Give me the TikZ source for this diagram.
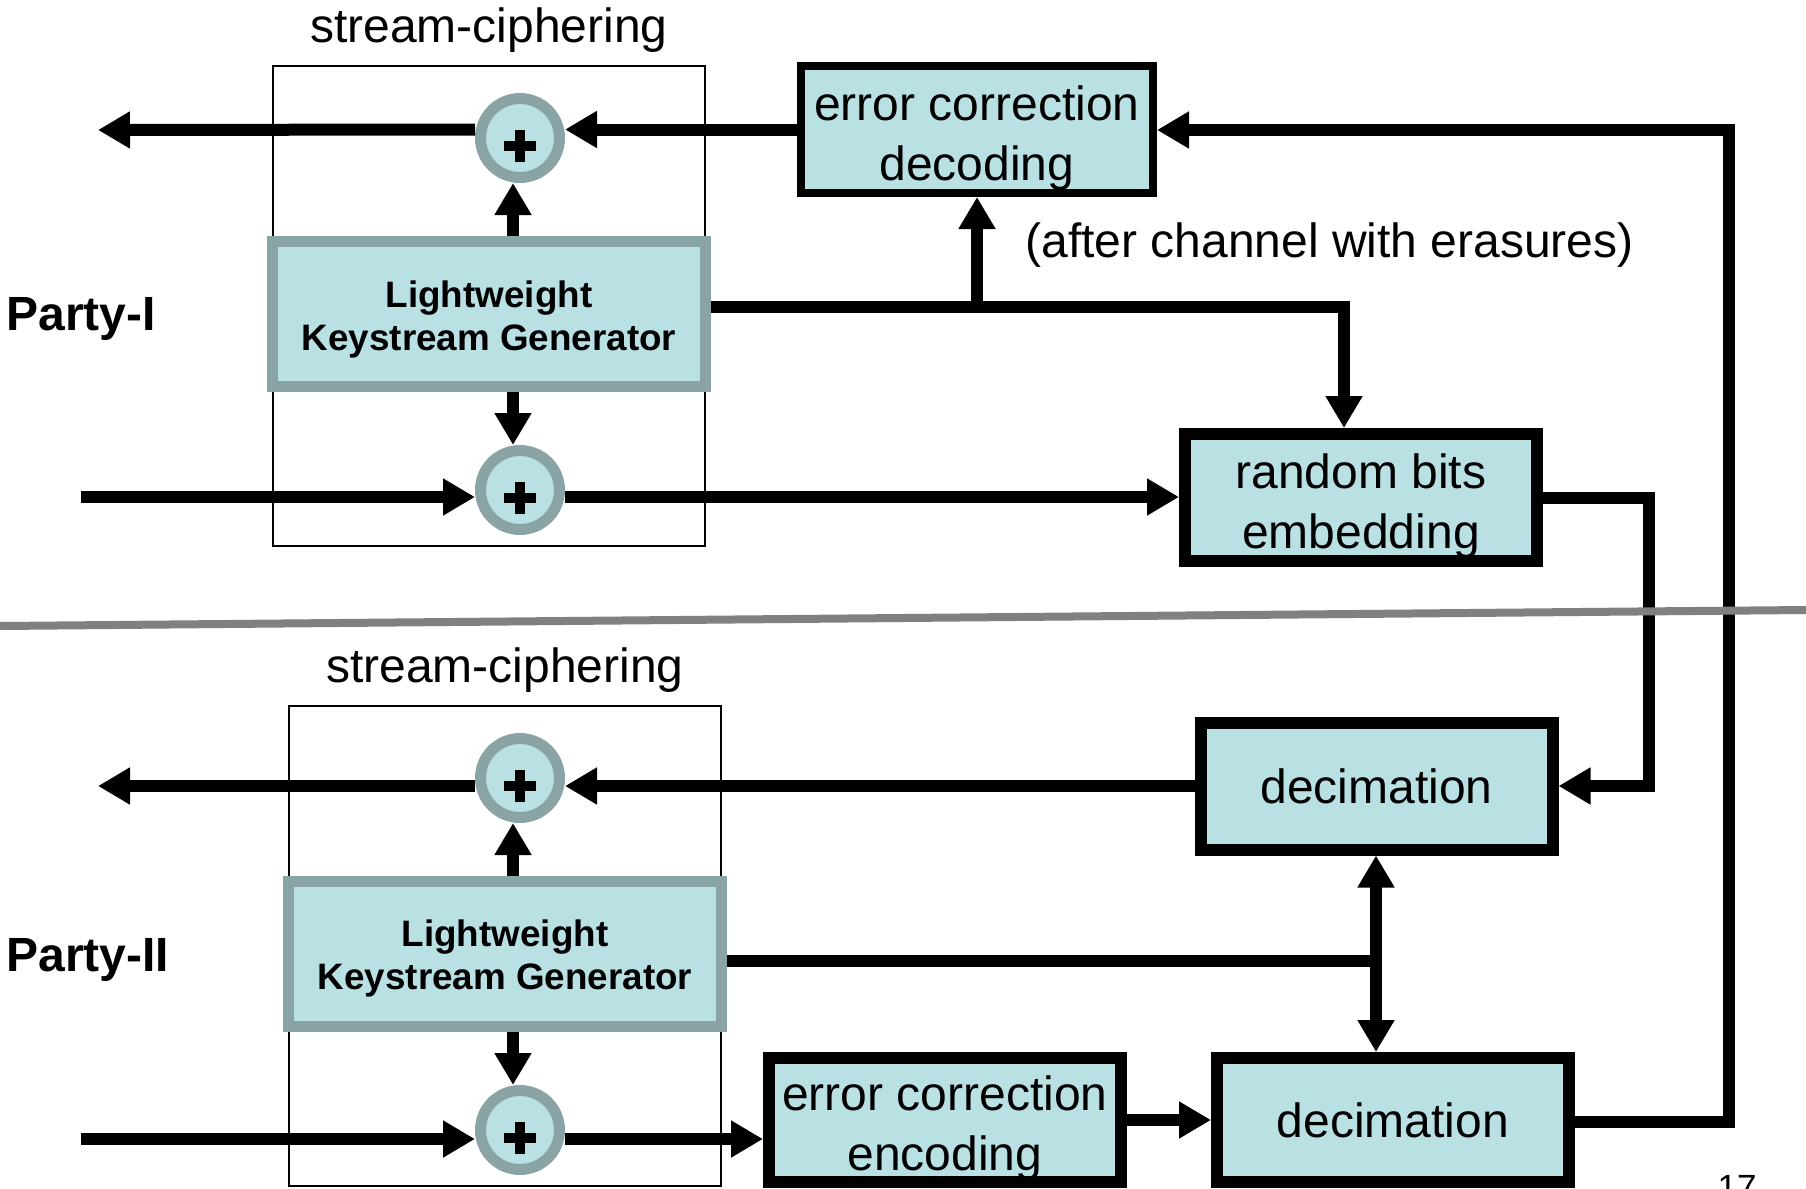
\documentclass[tikz,border=0pt]{standalone}
\usepackage{fontspec}
\setmainfont{Liberation Sans}
\usetikzlibrary{arrows.meta}

\definecolor{boxfill}{RGB}{185,224,227}
\definecolor{ringgray}{RGB}{138,164,166}
\definecolor{sepgray}{RGB}{128,128,128}

% invisible struts that lower two-line block texts a little
\newcommand{\bigpad}{\rule{0pt}{25.5pt}}
\newcommand{\kgpad}{\rule{0pt}{18.4pt}}

\begin{document}
\begin{tikzpicture}[x=0.5pt,y=-0.5pt,
  conn/.style={line width=6pt},
  arr/.style={conn,-{Triangle[length=16pt,width=17.5pt]}},
  darr/.style={conn,{Triangle[length=16pt,width=17.5pt]}-{Triangle[length=16pt,width=17.5pt]}},
  bigtext/.style={font=\fontsize{24}{30}\selectfont},
  procbox/.style={draw=black,line width=6pt,fill=boxfill,minimum width=176pt,
    minimum height=63.5pt,inner sep=0pt,align=center,bigtext},
  keygen/.style={draw=ringgray,line width=5.5pt,fill=boxfill,minimum width=216.5pt,
    minimum height=72.5pt,inner sep=0pt,align=center,
    font=\bfseries\fontsize{18.4}{21.5}\selectfont},
  xorop/.style={circle,draw=ringgray,line width=5.5pt,fill=boxfill,minimum size=39.5pt,
    inner sep=0pt,
    path picture={\draw[black,line width=5pt]
      ([yshift=-3.75pt]path picture bounding box.center) +(-8pt,0pt) -- +(8pt,0pt)
      ([yshift=-3.75pt]path picture bounding box.center) +(0pt,-8pt) -- +(0pt,8pt);}},
  cipherframe/.style={draw=black,line width=1pt,minimum width=216pt,minimum height=240pt,inner sep=0pt},
  plainlabel/.style={inner sep=0pt,bigtext},
  partylabel/.style={anchor=base west,inner sep=0pt,font=\bfseries\fontsize{24}{30}\selectfont},
  sep/.style={draw=sepgray,line width=4pt}
]
\useasboundingbox (0,0) rectangle (1806,1189);
\clip (0,0) rectangle (1806,1189);

% stream-ciphering frames and their titles
\node[cipherframe] (sc1) at (489,306) {};
\node[cipherframe] (sc2) at (505,946) {};
\node[anchor=base,plainlabel] (lab1) at (489,42) {stream-ciphering};
\node[anchor=base,plainlabel] (lab2) at (505,682) {stream-ciphering};

% keystream generators
\node[keygen] (kg1) at (489,314) {\kgpad Lightweight\\Keystream Generator};
\node[keygen] (kg2) at (505,953.5) {\kgpad Lightweight\\Keystream Generator};

% XOR combiners
\node[xorop] (x1) at (520,138) {};
\node[xorop] (x2) at (520,490) {};
\node[xorop] (x3) at (520,778) {};
\node[xorop] (x4) at (520,1130) {};

% processing blocks
\node[procbox,line width=4pt] (ecd) at (977,129.5) {\bigpad error correction\\decoding};
\node[procbox] (rbe) at (1361,497.5) {\bigpad random bits\\embedding};
\node[procbox] (dec1) at (1376.5,786) {decimation};
\node[procbox,minimum height=62pt] (ece) at (945,1120) {\bigpad error correction\\encoding};
\node[procbox,minimum height=62pt] (dec2) at (1393,1120) {decimation};

% labels
\node[partylabel] (p1) at (6,330) {Party-I};
\node[partylabel] (p2) at (6,971) {Party-II};
\node[anchor=base west,plainlabel] (note) at (1025,257) {(after channel with erasures)};
\node[anchor=base,inner sep=0pt,font=\fontsize{17.5}{20}\selectfont] (pg) at (1737,1199) {17};

% routing points
\coordinate (o1) at (98,130);
\coordinate (o2) at (98,786);
\coordinate (i1) at (81,497);
\coordinate (i2) at (81,1139);
\coordinate (k) at (513,0);
\coordinate (j1) at (977,307);
\coordinate (j3) at (1344,307);
\coordinate (q1) at (1649,498);
\coordinate (q2) at (1649,786);
\coordinate (j2) at (1376,961);
\coordinate (r1) at (1729,1122);
\coordinate (r2) at (1729,130);

% Party-I
\draw[arr] (ecd.west) -- (x1.east |- ecd.west);
\draw[arr] (x1.west |- ecd.west) -- (o1);
\draw[arr] (kg1.north -| k) -- (x1.south -| k);
\draw[arr] (kg1.south -| k) -- (x2.north -| k);
\draw[arr] (i1) -- (x2.west |- i1);
\draw[arr] (x2.east |- i1) -- (rbe.west |- i1);
\draw[arr] (kg1.east |- j1) -- (j3) -- (rbe.north -| j3);
\draw[arr] (j1) -- (ecd.south -| j1);

% channel links
\draw[arr] (rbe.east |- q1) -- (q1) -- (q2) -- (dec1.east |- q2);
\draw[arr] (dec2.east |- r1) -- (r1) -- (r2) -- (ecd.east |- r2);

% Party-II
\draw[arr] (dec1.west) -- (x3.east |- dec1.west);
\draw[arr] (x3.west |- dec1.west) -- (o2);
\draw[arr] (kg2.north -| k) -- (x3.south -| k);
\draw[arr] (kg2.south -| k) -- (x4.north -| k);
\draw[conn] (kg2.east |- j2) -- (j2);
\draw[darr] (dec1.south -| j2) -- (dec2.north -| j2);
\draw[arr] (i2) -- (x4.west |- i2);
\draw[arr] (x4.east |- i2) -- (ece.west |- i2);
\draw[arr] (ece.east) -- (dec2.west);

% dividing line between the parties
\draw[sep] (0,626) -- (1806,610);
\end{tikzpicture}
\end{document}
